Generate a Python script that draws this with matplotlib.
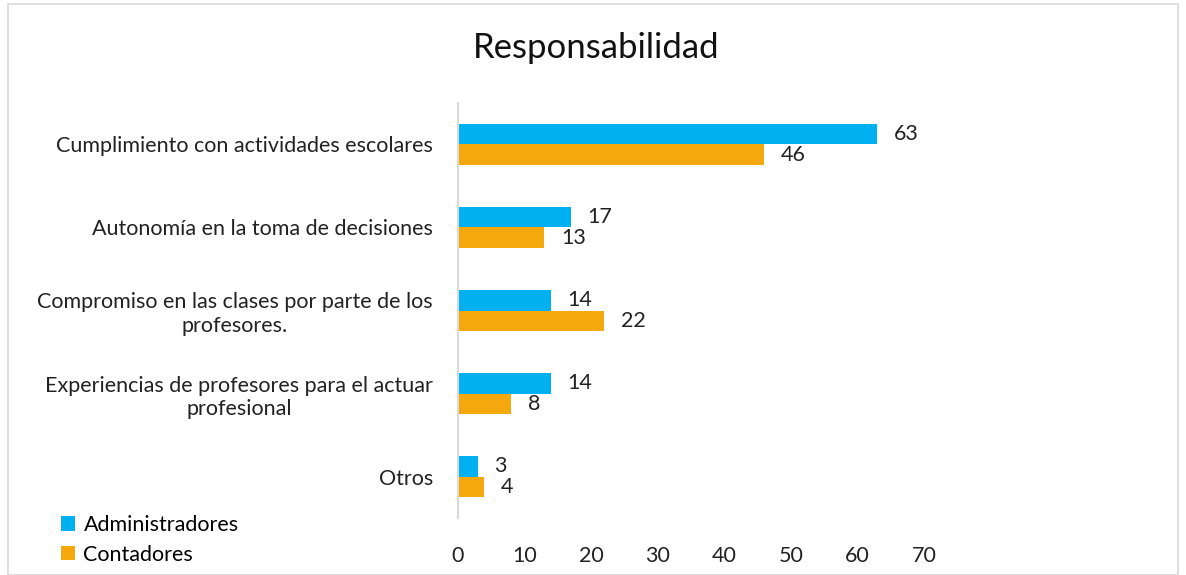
import numpy as np
import matplotlib.pyplot as plt

categorias = ['Cumplimiento con actividades escolares',
              'Autonomía en la toma de decisiones',
              'Compromiso en las clases por parte de los\nprofesores.',
              'Experiencias de profesores para el actuar\nprofesional',
              'Otros']
administradores = [63, 17, 14, 14, 3]
contadores = [46, 13, 22, 8, 4]
xticks = [0, 10, 20, 30, 40, 50, 60, 70]

azul = '#00B0F0'
naranja = '#F5A80D'

plt.rcParams['font.family'] = ['Lato', 'DejaVu Sans']

fig = plt.figure(figsize=(11.86, 5.75), dpi=100)
ax = fig.add_axes([0.386, 0.099, 0.393, 0.722])

y = np.arange(len(categorias))
h = 0.25
b1 = ax.barh(y - h / 2, administradores, height=h, color=azul, label='Administradores')
b2 = ax.barh(y + h / 2, contadores, height=h, color=naranja, label='Contadores')

for bars, vals in [(b1, administradores), (b2, contadores)]:
    for rect, v in zip(bars, vals):
        ax.annotate(str(v), (rect.get_width(), rect.get_y() + rect.get_height() / 2),
                    xytext=(12, 0), textcoords='offset points', va='center', ha='left',
                    fontsize=15.5, color='#222222')

ax.set_ylim(len(categorias) - 0.5, -0.5)
ax.set_xlim(0, 70)
ax.set_xticks(xticks)
ax.set_yticks(y)
ax.set_yticklabels(categorias, multialignment='center')
ax.tick_params(axis='both', length=0, labelsize=15.5, colors='#222222')
ax.tick_params(axis='x', pad=20)
ax.tick_params(axis='y', pad=18)
for s in ['top', 'right', 'bottom']:
    ax.spines[s].set_visible(False)
ax.spines['left'].set_color('#D9D9D9')
ax.spines['left'].set_linewidth(1.5)

fig.suptitle('Responsabilidad', x=0.503, y=0.945, fontsize=25, color='#111111')

fig.legend(handles=[b1, b2], loc='lower left', bbox_to_anchor=(0.035, -0.016),
           frameon=False, fontsize=15.5, handlelength=0.65, handleheight=0.65,
           handletextpad=0.4, labelspacing=0.45)

border = plt.Rectangle((0.007, 0.0), 0.986, 0.993, transform=fig.transFigure,
                       fill=False, edgecolor='#D9D9D9', linewidth=1.2)
fig.patches.append(border)

fig.savefig('out.png', dpi=100)
